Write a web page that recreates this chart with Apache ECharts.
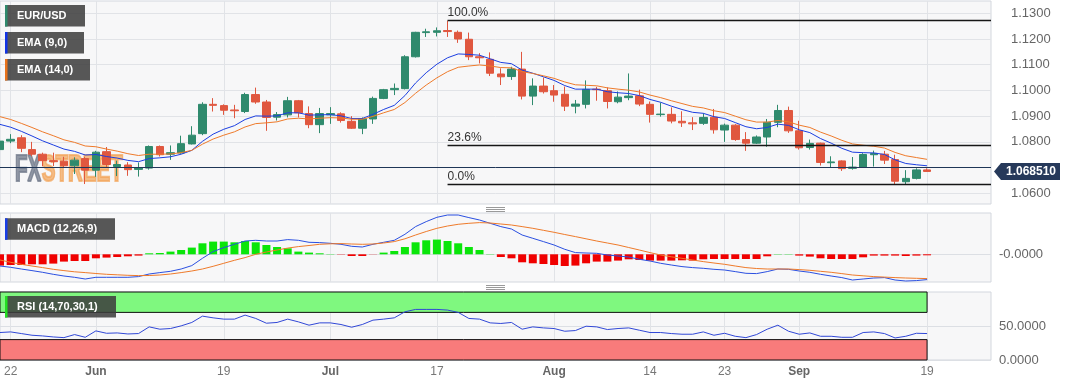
<!DOCTYPE html>
<html>
<head>
<meta charset="utf-8">
<title>EUR/USD</title>
<script src="https://cdn.jsdelivr.net/npm/echarts@6.0.0/dist/echarts.min.js"></script>
<style>
html,body{margin:0;padding:0;background:#ffffff;overflow:hidden;}
#chart{width:1067px;height:386px;}
</style>
</head>
<body>
<div id="chart"></div>
<script>
// ---------------- DATA ----------------
const dates = [
 '2023-05-19','2023-05-22','2023-05-23','2023-05-24','2023-05-25','2023-05-26','2023-05-29','2023-05-30','2023-05-31',
 '2023-06-01','2023-06-02','2023-06-05','2023-06-06','2023-06-07','2023-06-08','2023-06-09','2023-06-12','2023-06-13','2023-06-14','2023-06-15','2023-06-16','2023-06-19','2023-06-20','2023-06-21','2023-06-22','2023-06-23','2023-06-26','2023-06-27','2023-06-28','2023-06-29','2023-06-30',
 '2023-07-03','2023-07-04','2023-07-05','2023-07-06','2023-07-07','2023-07-10','2023-07-11','2023-07-12','2023-07-13','2023-07-14','2023-07-17','2023-07-18','2023-07-19','2023-07-20','2023-07-21','2023-07-24','2023-07-25','2023-07-26','2023-07-27','2023-07-28','2023-07-31',
 '2023-08-01','2023-08-02','2023-08-03','2023-08-04','2023-08-07','2023-08-08','2023-08-09','2023-08-10','2023-08-11','2023-08-14','2023-08-15','2023-08-16','2023-08-17','2023-08-18','2023-08-21','2023-08-22','2023-08-23','2023-08-24','2023-08-25','2023-08-28','2023-08-29','2023-08-30','2023-08-31',
 '2023-09-01','2023-09-04','2023-09-05','2023-09-06','2023-09-07','2023-09-08','2023-09-11','2023-09-12','2023-09-13','2023-09-14','2023-09-15','2023-09-18','2023-09-19'
];
const futureSlots = ['2023-09-20','2023-09-21','2023-09-22','2023-09-25','2023-09-26','2023-09-27'];

const opens = [
 1.0770,1.0803,1.0816,1.0770,1.0752,1.0727,1.0725,1.0707,1.0735,1.0690,
 1.0762,1.0704,1.0710,1.0693,1.0698,1.0782,1.0752,1.0757,1.0792,1.0832,
 1.0946,1.0941,1.0924,1.0918,1.0984,1.0955,1.0896,1.0905,1.0960,1.0910,
 1.0867,1.0905,1.0909,1.0880,1.0853,1.0889,1.0969,1.1003,1.1007,1.1131,
 1.1225,1.1226,1.1233,1.1226,1.1199,1.1131,1.1121,1.1064,1.1054,1.1083,
 1.0978,1.1017,1.0999,1.0985,1.0939,1.0946,1.1005,1.0999,1.0956,1.0972,
 1.0979,1.0946,1.0906,1.0907,1.0880,1.0874,1.0872,1.0896,1.0846,1.0865,
 1.0809,1.0795,1.0819,1.0876,1.0922,1.0843,1.0778,1.0795,1.0719,1.0726,
 1.0697,1.0702,1.0750,1.0752,1.0731,1.0645,1.0658,1.0691
];
const highs = [
 1.0817,1.0830,1.0826,1.0800,1.0758,1.0758,1.0742,1.0740,1.0742,1.0765,
 1.0780,1.0727,1.0721,1.0720,1.0786,1.0786,1.0786,1.0824,1.0861,1.0954,
 1.0970,1.0946,1.0944,1.0991,1.1011,1.0963,1.0916,1.0975,1.0963,1.0938,
 1.0932,1.0935,1.0915,1.0900,1.0895,1.0976,1.1006,1.1027,1.1137,1.1228,
 1.1240,1.1245,1.1271,1.1233,1.1225,1.1145,1.1148,1.1086,1.1092,1.1150,
 1.1047,1.1050,1.1021,1.1015,1.0963,1.1039,1.1014,1.1012,1.0996,1.1066,
 1.1003,1.0957,1.0953,1.0934,1.0919,1.0896,1.0911,1.0928,1.0871,1.0869,
 1.0838,1.0825,1.0889,1.0944,1.0937,1.0882,1.0809,1.0797,1.0744,1.0728,
 1.0741,1.0756,1.0766,1.0765,1.0750,1.0690,1.0697,1.0697
];
const lows = [
 1.0762,1.0795,1.0760,1.0744,1.0705,1.0706,1.0700,1.0675,1.0636,1.0664,
 1.0700,1.0667,1.0668,1.0665,1.0692,1.0743,1.0730,1.0754,1.0790,1.0826,
 1.0918,1.0905,1.0892,1.0912,1.0948,1.0843,1.0883,1.0895,1.0895,1.0853,
 1.0834,1.0870,1.0875,1.0850,1.0830,1.0870,1.0966,1.0982,1.1004,1.1128,
 1.1208,1.1210,1.1208,1.1185,1.1118,1.1105,1.1056,1.1021,1.1041,1.0965,
 1.0943,1.0988,1.0956,1.0920,1.0911,1.0930,1.0960,1.0930,1.0950,1.0962,
 1.0939,1.0875,1.0898,1.0872,1.0858,1.0846,1.0866,1.0832,1.0800,1.0804,
 1.0765,1.0792,1.0781,1.0857,1.0835,1.0770,1.0770,1.0708,1.0700,1.0687,
 1.0692,1.0699,1.0704,1.0714,1.0634,1.0636,1.0654,1.0683
];
const closes = [
 1.0803,1.0810,1.0775,1.0752,1.0727,1.0723,1.0707,1.0729,1.0690,1.0760,
 1.0712,1.0712,1.0692,1.0698,1.0782,1.0750,1.0758,1.0793,1.0826,1.0946,
 1.0942,1.0923,1.0921,1.0984,1.0955,1.0895,1.0906,1.0960,1.0913,1.0867,
 1.0910,1.0910,1.0883,1.0853,1.0890,1.0969,1.1003,1.1008,1.1131,1.1226,
 1.1228,1.1232,1.1229,1.1200,1.1131,1.1127,1.1067,1.1053,1.1083,1.0978,
 1.1017,1.0995,1.0982,1.0939,1.0947,1.1004,1.1003,1.0957,1.0974,1.0978,
 1.0947,1.0907,1.0908,1.0881,1.0874,1.0870,1.0895,1.0847,1.0865,1.0809,
 1.0795,1.0819,1.0876,1.0922,1.0843,1.0777,1.0794,1.0720,1.0722,1.0696,
 1.0702,1.0751,1.0755,1.0729,1.0647,1.0658,1.0691,1.0685
];
const ema9 = [
 1.0868,1.0857,1.0841,1.0823,1.0804,1.0788,1.0772,1.0763,1.0749,1.0751,
 1.0743,1.0737,1.0728,1.0723,1.0735,1.0738,1.0742,1.0752,1.0767,1.0802,
 1.0830,1.0849,1.0863,1.0887,1.0901,1.0900,1.0901,1.0913,1.0913,1.0904,
 1.0905,1.0906,1.0901,1.0891,1.0891,1.0907,1.0926,1.0942,1.0980,1.1029,
 1.1069,1.1102,1.1127,1.1142,1.1140,1.1137,1.1123,1.1109,1.1104,1.1079,
 1.1067,1.1053,1.1039,1.1019,1.1005,1.1005,1.1005,1.0995,1.0991,1.0988,
 1.0980,1.0965,1.0954,1.0939,1.0926,1.0915,1.0911,1.0898,1.0891,1.0875,
 1.0859,1.0851,1.0856,1.0869,1.0864,1.0847,1.0836,1.0813,1.0795,1.0775,
 1.0760,1.0758,1.0757,1.0751,1.0730,1.0716,1.0711,1.0707
];
const ema14 = [
 1.0898,1.0887,1.0872,1.0856,1.0839,1.0824,1.0808,1.0798,1.0784,1.0781,
 1.0772,1.0764,1.0754,1.0747,1.0752,1.0752,1.0753,1.0758,1.0767,1.0791,
 1.0811,1.0826,1.0839,1.0858,1.0871,1.0874,1.0878,1.0889,1.0892,1.0889,
 1.0892,1.0894,1.0893,1.0888,1.0888,1.0899,1.0913,1.0926,1.0953,1.0989,
 1.1021,1.1049,1.1073,1.1090,1.1095,1.1099,1.1095,1.1089,1.1088,1.1073,
 1.1066,1.1057,1.1047,1.1033,1.1022,1.1020,1.1018,1.1010,1.1005,1.1001,
 1.0994,1.0982,1.0972,1.0960,1.0949,1.0938,1.0932,1.0921,1.0914,1.0900,
 1.0886,1.0877,1.0877,1.0883,1.0878,1.0865,1.0856,1.0838,1.0823,1.0806,
 1.0792,1.0787,1.0783,1.0776,1.0759,1.0746,1.0739,1.0732
];
const macdLine = [
 -0.00234,-0.0026,-0.00294,-0.00326,-0.0036,-0.004,-0.00434,-0.0046,-0.00494,-0.0046,
 -0.0046,-0.0046,-0.0046,-0.00446,-0.00394,-0.00366,-0.0034,-0.00294,-0.00226,-0.0008,
 0.00054,0.00134,0.002,0.00266,0.0028,0.00266,0.00266,0.00294,0.0028,0.0024,
 0.00234,0.0022,0.002,0.0016,0.00146,0.002,0.0024,0.0028,0.004,0.00554,
 0.00654,0.0074,0.00786,0.00786,0.00734,0.00686,0.0062,0.00554,0.00506,0.00386,
 0.0032,0.00254,0.00186,0.001,0.00034,0.00026,0.0002,-0.00014,-0.00034,-0.00054,
 -0.001,-0.00134,-0.0018,-0.00214,-0.00246,-0.00266,-0.0028,-0.003,-0.00314,-0.00346,
 -0.0038,-0.00386,-0.00346,-0.00294,-0.003,-0.00334,-0.0036,-0.004,-0.00434,-0.00466,
 -0.00514,-0.00494,-0.00474,-0.00466,-0.00514,-0.00534,-0.00526,-0.00506
];
const signalLine = [
 -0.00114,-0.0016,-0.002,-0.00234,-0.00266,-0.003,-0.00326,-0.0035,-0.00366,-0.00384,
 -0.004,-0.0041,-0.0042,-0.00426,-0.00424,-0.00414,-0.00394,-0.00366,-0.00334,-0.00294,
 -0.0024,-0.0018,-0.0012,-0.00066,0,0.00046,0.00086,0.00124,0.00154,0.00176,
 0.002,0.0021,0.00214,0.00206,0.002,0.00206,0.00226,0.00254,0.0031,0.00386,
 0.00456,0.0052,0.00566,0.006,0.0062,0.00634,0.00626,0.00606,0.00586,0.00554,
 0.0052,0.0048,0.0044,0.00396,0.00354,0.0031,0.00266,0.00226,0.00186,0.00136,
 0.00086,0.00034,-0.00014,-0.0005,-0.0008,-0.00114,-0.00146,-0.00174,-0.002,-0.00234,
 -0.00266,-0.00284,-0.00294,-0.00294,-0.00294,-0.00306,-0.0032,-0.0034,-0.0036,-0.00386,
 -0.00414,-0.0043,-0.00446,-0.00456,-0.00466,-0.00474,-0.0048,-0.00486
];
const histogram = [
 -0.00226,-0.00214,-0.00214,-0.002,-0.002,-0.00186,-0.00146,-0.00134,-0.00134,-0.0008,
 -0.00066,-0.00054,-0.0004,-0.00026,0.0002,0.00026,0.00054,0.00086,0.00134,0.0022,
 0.00254,0.00254,0.0024,0.00266,0.0024,0.00186,0.00146,0.0012,0.00054,0.00034,
 0.0002,0.00006,-0.00006,-0.00034,-0.00034,-0.00004,0.00034,0.00066,0.00146,0.0024,
 0.0028,0.00294,0.00266,0.0022,0.00146,0.00086,0.00006,-0.00054,-0.0008,-0.0016,
 -0.0018,-0.00194,-0.00214,-0.00234,-0.00226,-0.0018,-0.00146,-0.00146,-0.00126,-0.001,
 -0.00114,-0.00126,-0.00126,-0.00126,-0.0012,-0.00126,-0.001,-0.00094,-0.00094,-0.00094,
 -0.00094,-0.00094,-0.0004,0.00006,0.00006,-0.00026,-0.00046,-0.0008,-0.00094,-0.00094,
 -0.00094,-0.0006,-0.00026,-0.00026,-0.00026,-0.00034,-0.00026,-0.0002
];
const rsiValues = [
 40.4,41.3,38.9,36.4,35.4,33.9,32.9,37.4,33.4,42.8,
 39.3,39.8,38.3,38.9,48.7,45.3,46.3,50.2,55.2,64.5,
 62,60.1,60.1,66,61.1,54.1,55.2,60.1,56.1,51.2,
 54.6,54.6,52.2,48.2,52.2,58.6,60.1,62,70.9,74.4,
 74.4,74.4,73.4,70,61.1,60.1,54.6,53.7,55.2,45.3,
 48.7,47.2,46.3,42.3,43.3,49.7,48.7,44.8,46.3,47.2,
 43.8,40.4,40.4,38.9,37.9,37.9,41.3,36.4,39.3,34.9,
 32.9,37.4,45.3,51.2,42.3,37.9,39.8,34.9,34.9,33.4,
 33.4,40.4,41.3,38.9,32.4,34.9,39.3,38.9
];
const tickDates = ['2023-05-22','2023-06-01','2023-06-19','2023-07-03','2023-07-17','2023-08-01','2023-08-14','2023-08-23','2023-09-01','2023-09-19'];
const tickTexts = ['22','Jun','19','Jul','17','Aug','14','23','Sep','19'];
const monthLabels = ['Jun','Jul','Aug','Sep'];
const priceLabelValues = [1.06,1.08,1.09,1.10,1.11,1.12,1.13];
const priceGridValues = [1.06,1.07,1.08,1.09,1.10,1.11,1.12,1.13];
const fibStartDate = '2023-07-18';
const fibLabels = ['100.0%','23.6%','0.0%'];
const fibValues = [1.1271,1.0785,1.0635];
const lastPrice = 1.06851;
const rsiLevels = [30, 70];

// ---------------- CHART ----------------
const FONT = "'Liberation Sans', Arial, Helvetica, sans-serif";
const UP = '#2f8a6d', DOWN = '#e0573f';
const cats = dates.concat(futureSlots);
const lastCat = cats[cats.length - 1];
const candleData = dates.map((d, k) => [opens[k], closes[k], lows[k], highs[k]]);
const tickIndex = {};
tickDates.forEach((d, k) => { tickIndex[cats.indexOf(d)] = tickTexts[k]; });
const isTick = (idx) => tickIndex[idx] !== undefined;

const chart = echarts.init(document.getElementById('chart'), null, {renderer: 'canvas'});

function xAxis(gi, labels) {
  return {
    type: 'category', gridIndex: gi, data: cats, boundaryGap: false,
    axisLine: {show: false}, axisTick: {show: false},
    splitLine: {show: true, interval: (idx) => isTick(idx), lineStyle: {color: '#e1e3e7', width: 1}},
    axisLabel: {
      show: labels, interval: (idx) => isTick(idx), margin: 6,
      formatter: (v, idx) => {
        const t = tickIndex[idx];
        return monthLabels.indexOf(t) >= 0 ? '{m|' + t + '}' : '{d|' + t + '}';
      },
      rich: {
        m: {fontFamily: FONT, fontSize: 12, fontWeight: 'bold', color: '#666'},
        d: {fontFamily: FONT, fontSize: 12, color: '#777'}
      }
    }
  };
}
const gridBase = {left: 0, right: 76, show: true, backgroundColor: '#f7f7f8', borderColor: '#d3d7de', borderWidth: 1};

function box(x, y, w, color, text) {
  return {
    type: 'group', x: x, y: y,
    children: [
      {type: 'rect', z: 100, shape: {x: 0, y: 0, width: w, height: 21.5}, style: {fill: 'rgba(60,60,60,0.86)'}},
      {type: 'rect', z: 101, shape: {x: 0, y: 0, width: 2.5, height: 21.5}, style: {fill: color}},
      {type: 'text', z: 102, style: {text: text, x: 12, y: 11, fill: '#ffffff', font: 'bold 11px ' + FONT,
        verticalAlign: 'middle', textVerticalAlign: 'middle'}}
    ]
  };
}
function handle(y) {
  return {type: 'group', children: [0, 2, 4].map(d => ({
    type: 'line', z: 100, shape: {x1: 486, y1: y + d, x2: 505, y2: y + d}, style: {stroke: '#9a9a9a', lineWidth: 1}
  }))};
}
function watermark() {
  const wmFont = '900 36px ' + FONT;
  return {type: 'group', x: 15, y: 0, scaleX: 0.57, children: [
    {type: 'text', z: 1, style: {text: 'FX', x: 0, y: 171.5, font: wmFont, fill: 'rgba(118,126,142,0.8)',
      stroke: 'rgba(118,126,142,0.8)', lineWidth: 2.2, verticalAlign: 'middle', textVerticalAlign: 'middle'}},
    {type: 'text', z: 1, style: {text: 'STREET', x: 47, y: 171.5, font: wmFont, fill: 'rgba(242,165,90,0.72)',
      stroke: 'rgba(242,165,90,0.72)', lineWidth: 2.2, verticalAlign: 'middle', textVerticalAlign: 'middle'}}
  ]};
}
function priceTag(py) {
  return {type: 'group', children: [
    {type: 'polygon', z: 100, shape: {points: [[994, py], [1001, py - 8.5], [1060, py - 8.5], [1060, py + 8.5], [1001, py + 8.5]]},
      style: {fill: '#26395a'}},
    {type: 'text', z: 101, style: {text: lastPrice.toFixed(6), x: 1031, y: py, fill: '#ffffff', font: 'bold 12px ' + FONT,
      align: 'center', textAlign: 'center', verticalAlign: 'middle', textVerticalAlign: 'middle'}}
  ]};
}
const baseGraphics = [
  watermark(),
  box(5, 5, 80, '#2f8a6d', 'EUR/USD'),
  box(5, 32, 79, '#1234e6', 'EMA (9,0)'),
  box(5, 59, 85, '#e8731c', 'EMA (14,0)'),
  box(5, 218.3, 110, '#1a3fe6', 'MACD (12,26,9)'),
  box(5, 296, 111, '#22e022', 'RSI (14,70,30,1)'),
  handle(207.5),
  handle(285.5)
];

const option = {
  animation: false,
  backgroundColor: '#ffffff',
  grid: [
    Object.assign({}, gridBase, {top: 1, height: 203}),
    Object.assign({}, gridBase, {top: 213, height: 69}),
    Object.assign({}, gridBase, {top: 292, height: 68})
  ],
  xAxis: [xAxis(0, false), xAxis(1, false), xAxis(2, true)],
  yAxis: [
    {
      type: 'value', gridIndex: 0, position: 'right', min: 1.05584, max: 1.13478,
      axisLine: {show: false}, axisTick: {show: false, customValues: priceGridValues},
      splitLine: {show: true, lineStyle: {color: '#e1e3e7'}},
      axisLabel: {customValues: priceLabelValues, formatter: (v) => v.toFixed(4), color: '#666',
        fontFamily: FONT, fontSize: 13, margin: 20}
    },
    {
      type: 'value', gridIndex: 1, position: 'right', min: -0.00554, max: 0.00826,
      axisLine: {show: false}, axisTick: {show: false, customValues: [0]},
      splitLine: {show: true, lineStyle: {color: '#dcdfe4'}},
      axisLabel: {customValues: [0], formatter: () => '-0.0000', color: '#666', fontFamily: FONT, fontSize: 13, margin: 8}
    },
    {
      type: 'value', gridIndex: 2, position: 'right', min: 0, max: 100,
      axisLine: {show: false}, axisTick: {show: false, customValues: [0, 50]},
      splitLine: {show: true, lineStyle: {color: '#dcdfe4'}},
      axisLabel: {customValues: [0, 50], formatter: (v) => v.toFixed(4), color: '#666', fontFamily: FONT, fontSize: 13, margin: 8}
    }
  ],
  series: [
    {
      name: 'EUR/USD', type: 'candlestick', xAxisIndex: 0, yAxisIndex: 0, data: candleData,
      barWidth: 8, z: 3,
      itemStyle: {color: UP, color0: DOWN, borderColor: UP, borderColor0: DOWN, borderWidth: 1},
      markLine: {
        symbol: 'none', silent: true, animation: false,
        data: [
          {yAxis: lastPrice, lineStyle: {color: '#1f3657', width: 1, type: 'solid'}, label: {show: false}}
        ].concat(fibValues.map((v, k) => [
          {coord: [fibStartDate, v], lineStyle: {color: '#161616', width: 1.3, type: 'solid'},
           label: {show: true, formatter: fibLabels[k], position: 'insideStartTop', distance: [0, 2],
             color: '#333', fontFamily: FONT, fontSize: 12}},
          {coord: [lastCat, v]}
        ]))
      }
    },
    {name: 'EMA (9,0)', type: 'line', xAxisIndex: 0, yAxisIndex: 0, data: ema9, showSymbol: false, z: 4,
      lineStyle: {color: '#1b3ee0', width: 1}},
    {name: 'EMA (14,0)', type: 'line', xAxisIndex: 0, yAxisIndex: 0, data: ema14, showSymbol: false, z: 4,
      lineStyle: {color: '#ee7a2a', width: 1}},
    {name: 'Histogram', type: 'bar', xAxisIndex: 1, yAxisIndex: 1, data: histogram, barWidth: 8,
      itemStyle: {color: (p) => p.value >= 0 ? '#0ae60a' : '#f00000'}},
    {name: 'MACD', type: 'line', xAxisIndex: 1, yAxisIndex: 1, data: macdLine, showSymbol: false, z: 4,
      lineStyle: {color: '#2a4fe0', width: 1}},
    {name: 'Signal', type: 'line', xAxisIndex: 1, yAxisIndex: 1, data: signalLine, showSymbol: false, z: 4,
      lineStyle: {color: '#ee7a2a', width: 1}},
    {
      name: 'RSI', type: 'line', xAxisIndex: 2, yAxisIndex: 2, data: rsiValues, showSymbol: false, z: 4,
      lineStyle: {color: '#3047d6', width: 1},
      markArea: {
        silent: true,
        data: [
          [{coord: [cats[0], rsiLevels[1]], itemStyle: {color: '#7ff87f', borderColor: '#111', borderWidth: 1}},
           {coord: [dates[dates.length - 1], 100]}],
          [{coord: [cats[0], 0], itemStyle: {color: '#f87b7b', borderColor: '#111', borderWidth: 1}},
           {coord: [dates[dates.length - 1], rsiLevels[0]]}]
        ]
      }
    }
  ],
  graphic: baseGraphics
};
chart.setOption(option);

// current price tag, positioned through the axis scale
const py = chart.convertToPixel({yAxisIndex: 0}, lastPrice);
chart.setOption({graphic: baseGraphics.concat([priceTag(py)])}, {replaceMerge: ['graphic']});
</script>
</body>
</html>
